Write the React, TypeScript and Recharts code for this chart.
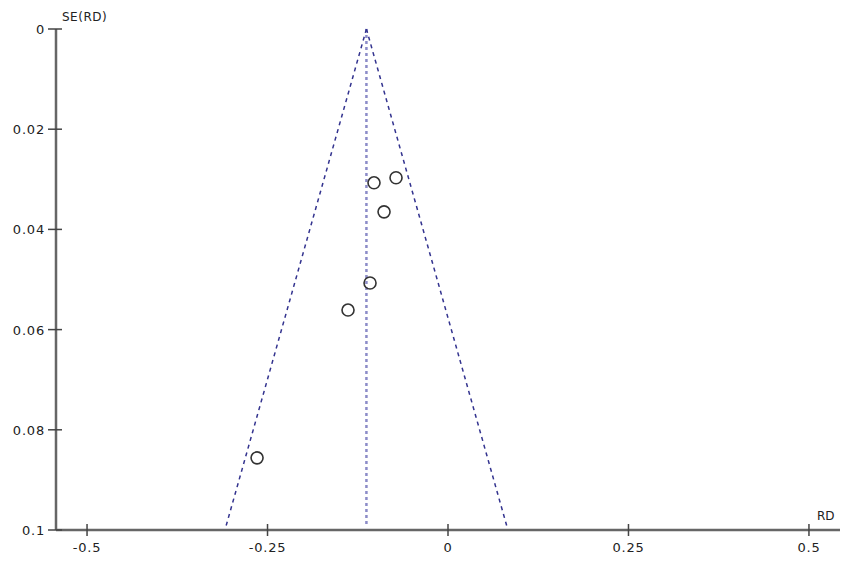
import { ComposedChart, Scatter, XAxis, YAxis, ReferenceLine } from "recharts";

// study estimates
const studyRD = [-0.1025, -0.072, -0.0886, -0.108, -0.1385, -0.2645];
const studySE = [0.0307, 0.0297, 0.0365, 0.0507, 0.0561, 0.0856];

const pooledRD = -0.113;
const maxSE = 0.1;
const xTicks = [-0.5, -0.25, 0, 0.25, 0.5];
const yTicks = [0, 0.02, 0.04, 0.06, 0.08, 0.1];

const data = studyRD.map((rd, i) => ({ rd, se: studySE[i] }));

const font = "DejaVu Sans, Verdana, sans-serif";
const axisGray = "#666";
const funnelBlue = "#33338f";
const textColor = "#222";

function XTick({ x, y, payload }: any) {
  return (
    <g>
      <line x1={x} x2={x} y1={y - 6} y2={y + 6} stroke="#444" strokeWidth={1.5} />
      <text
        x={x}
        y={y + 22}
        textAnchor="middle"
        fontSize={13}
        letterSpacing={0.8}
        fontFamily={font}
        fill={textColor}
      >
        {payload.value}
      </text>
    </g>
  );
}

function YTick({ x, y, payload }: any) {
  return (
    <g>
      <line x1={x - 8} x2={x + 6} y1={y} y2={y} stroke="#444" strokeWidth={1.5} />
      <text
        x={x - 11}
        y={y + 5}
        textAnchor="end"
        fontSize={13}
        letterSpacing={0.8}
        fontFamily={font}
        fill={textColor}
      >
        {payload.value}
      </text>
    </g>
  );
}

function OpenCircle({ cx, cy }: any) {
  return <circle cx={cx} cy={cy} r={6} fill="none" stroke="#333" strokeWidth={1.6} />;
}

export default function App() {
  const lo = pooledRD - 1.96 * maxSE;
  const hi = pooledRD + 1.96 * maxSE;
  return (
    <div style={{ position: "absolute", left: 0, top: 0, background: "#fff" }}>
      <ComposedChart
        width={850}
        height={562}
        data={data}
        margin={{ top: 29, right: 10, bottom: 0, left: 0 }}
      >
        <XAxis
          type="number"
          dataKey="rd"
          domain={[-0.543, 0.543]}
          ticks={xTicks}
          height={32}
          tickSize={0}
          tickMargin={0}
          tickLine={false}
          tick={<XTick />}
          axisLine={{ stroke: axisGray, strokeWidth: 2.5 }}
          allowDataOverflow
          label={{
            content: (p: any) => (
              <text
                x={p.viewBox.x + p.viewBox.width - 23}
                y={p.viewBox.y - 10}
                fontSize={12}
                fontFamily={font}
                fill={textColor}
              >
                RD
              </text>
            ),
          }}
        />
        <YAxis
          type="number"
          dataKey="se"
          domain={[0, maxSE]}
          reversed
          ticks={yTicks}
          width={56}
          tickSize={0}
          tickMargin={0}
          tickLine={false}
          tick={<YTick />}
          axisLine={{ stroke: axisGray, strokeWidth: 2.5 }}
          allowDataOverflow
          label={{
            content: (p: any) => (
              <text
                x={p.viewBox.x + p.viewBox.width + 6}
                y={p.viewBox.y - 8}
                fontSize={12}
                letterSpacing={0.5}
                fontFamily={font}
                fill={textColor}
              >
                SE(RD)
              </text>
            ),
          }}
        />
        <ReferenceLine
          segment={[{ x: pooledRD, y: 0 }, { x: pooledRD, y: maxSE * 0.99 }]}
          stroke="#8c8cc8"
          strokeWidth={2.5}
          strokeDasharray="3 3"
        />
        <ReferenceLine
          segment={[{ x: pooledRD, y: 0 }, { x: lo, y: maxSE }]}
          stroke={funnelBlue}
          strokeWidth={1.5}
          strokeDasharray="4 4"
        />
        <ReferenceLine
          segment={[{ x: pooledRD, y: 0 }, { x: hi, y: maxSE }]}
          stroke={funnelBlue}
          strokeWidth={1.5}
          strokeDasharray="4 4"
        />
        <Scatter dataKey="se" shape={<OpenCircle />} isAnimationActive={false} />
      </ComposedChart>
    </div>
  );
}
